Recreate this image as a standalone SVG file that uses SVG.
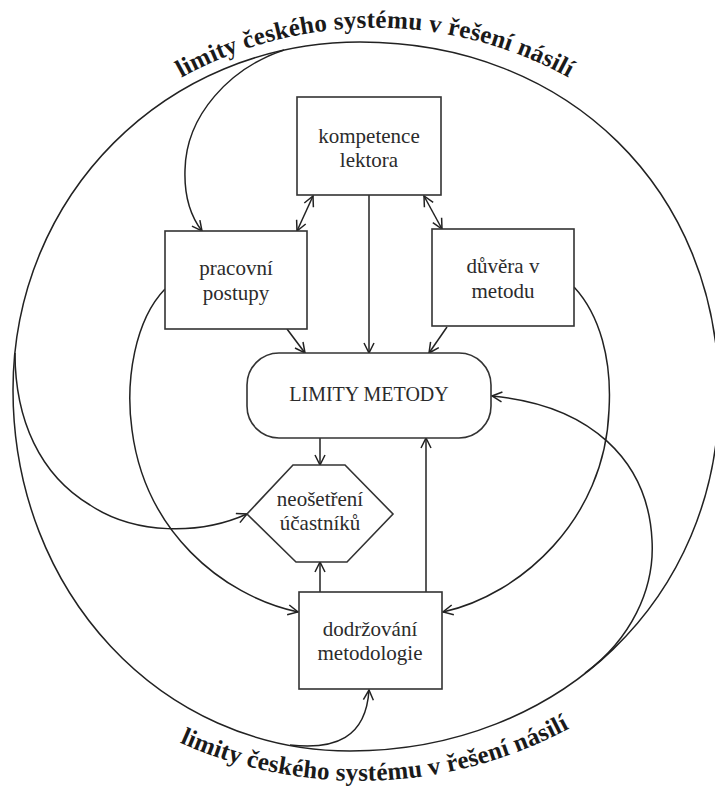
<svg xmlns="http://www.w3.org/2000/svg" width="715" height="790" viewBox="0 0 715 790">
<defs>
<marker id="ah" viewBox="0 0 12 12" refX="11" refY="6" markerWidth="12" markerHeight="12" markerUnits="userSpaceOnUse" orient="auto-start-reverse">
<path d="M1,1 L11,6 L1,11" fill="none" stroke="#222" stroke-width="1.5"/>
</marker>
<path id="arcTop" d="M 150,97 A 400,400 0 0 1 600,97"/>
<path id="arcBot" d="M 150,728 A 444,444 0 0 0 570,728"/>
</defs>
<style>
.box{fill:#fff;stroke:#333;stroke-width:1.6}
.ln{fill:none;stroke:#222;stroke-width:1.5}
.ar{marker-end:url(#ah)}
.dbl{marker-start:url(#ah);marker-end:url(#ah)}
.t{font-family:"Liberation Serif","Times New Roman",serif;font-size:21px;fill:#2b2b2b;text-anchor:middle}
.t20{font-size:20px}
.arc{font-family:"Liberation Serif","Times New Roman",serif;font-size:25px;font-weight:bold;fill:#1a1a1a;letter-spacing:0.2px}
</style>
<rect width="715" height="790" fill="#fff"/>

<g id="system">
<path class="ln" d="M360,42 C568,42 719,190 719,395 C719,598 560,751 350,751 C161,751 13,592 13,390 C13,195 166,42 360,42 Z"/>
<text class="arc"><textPath href="#arcTop" startOffset="50%" text-anchor="middle">limity českého systému v řešení násilí</textPath></text>
<text class="arc"><textPath href="#arcBot" startOffset="235" text-anchor="middle">limity českého systému v řešení násilí</textPath></text>
</g>

<g id="connectors">
<line class="ln ar" x1="369" y1="195" x2="369" y2="353"/>
<line class="ln dbl" x1="313" y1="196" x2="297" y2="231"/>
<line class="ln dbl" x1="424" y1="196" x2="442" y2="229"/>
<line class="ln ar" x1="287" y1="329" x2="305" y2="353"/>
<line class="ln ar" x1="447" y1="327" x2="429" y2="353"/>
<line class="ln ar" x1="320" y1="438" x2="320" y2="465"/>
<line class="ln ar" x1="320" y1="592" x2="320" y2="562"/>
<line class="ln ar" x1="426" y1="592" x2="426" y2="438"/>
<path class="ln ar" d="M284,50 C230,68 186,115 185,170 C184,200 192,218 202,231"/>
<path class="ln ar" d="M165,289 C135,320 125,380 132,430 C145,530 220,595 298,612"/>
<path class="ln ar" d="M574,287 C600,315 612,360 609,410 C605,520 520,595 443,612"/>
<path class="ln ar" d="M15,353 C15,420 40,475 90,505 C135,535 200,535 247,514"/>
<path class="ln ar" d="M290,745 C335,750 366,738 369,690"/>
<path class="ln ar" d="M585,673 C630,640 655,590 652,540 C648,460 590,405 492,396"/>
</g>

<g id="kompetence">
<rect class="box" x="297" y="97" width="144" height="98"/>
<text class="t" x="369" y="143">kompetence</text>
<text class="t" x="369" y="167">lektora</text>
</g>
<g id="pracovni">
<rect class="box" x="165" y="231" width="142" height="98"/>
<text class="t" x="236" y="275">pracovní</text>
<text class="t" x="236" y="300">postupy</text>
</g>
<g id="duvera">
<rect class="box" x="432" y="229" width="142" height="97"/>
<text class="t" x="503" y="273">důvěra v</text>
<text class="t" x="503" y="298">metodu</text>
</g>
<g id="limity">
<rect class="box" x="247" y="353" width="244" height="85" rx="32" ry="32"/>
<text class="t t20" x="369" y="401">LIMITY METODY</text>
</g>
<g id="neosetreni">
<polygon class="box" points="293,465 345,465 393,514 347,562 296,562 247,514"/>
<text class="t" x="320" y="506">neošetření</text>
<text class="t" x="320" y="530">účastníků</text>
</g>
<g id="dodrzovani">
<rect class="box" x="299" y="592" width="143" height="97"/>
<text class="t" x="370" y="636">dodržování</text>
<text class="t" x="370" y="660">metodologie</text>
</g>
</svg>
